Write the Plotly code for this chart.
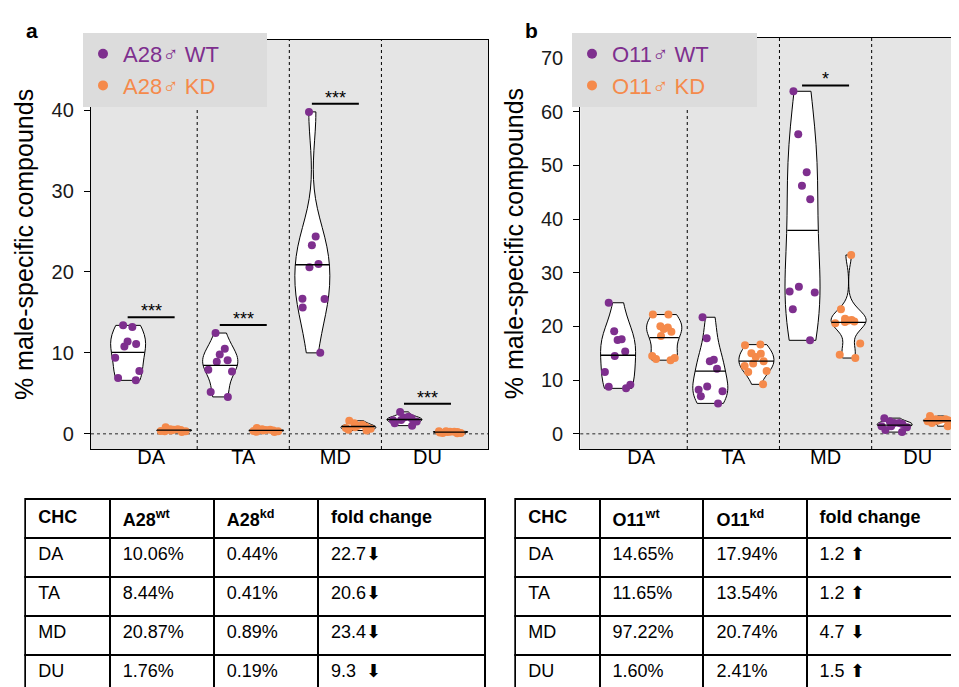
import math
import numpy as np
import plotly.graph_objects as go

# ---------------- data ----------------
categories = ["DA", "TA", "MD", "DU"]

# panel a (A28) – individual samples, % male-specific compounds
a_wt_vals = [
    [13.2, 13.4, 11.1, 10.8, 11.4, 9.4, 7.75, 6.9, 6.6],
    [12.45, 10.5, 9.8, 9.1, 8.9, 7.7, 7.9, 5.15, 4.55],
    [39.8, 24.4, 23.3, 20.6, 21.0, 16.7, 16.65, 15.6, 10.0],
    [2.7, 2.1, 2.0, 1.9, 1.7, 1.65, 1.5, 1.3, 1.0],
]
a_kd_vals = [
    [0.2, 0.3, 0.3, 0.35, 0.4, 0.45, 0.5, 0.55, 0.55, 0.8],
    [0.2, 0.25, 0.3, 0.35, 0.4, 0.4, 0.45, 0.5, 0.55, 0.7],
    [0.4, 0.5, 0.6, 0.7, 0.8, 0.9, 1.0, 1.1, 1.3, 1.6],
    [0.05, 0.1, 0.1, 0.15, 0.2, 0.2, 0.25, 0.25, 0.3, 0.3],
]
a_sig = ["***", "***", "***", "***"]

# panel b (O11)
b_wt_vals = [
    [24.4, 19.1, 17.6, 17.45, 15.3, 14.5, 11.5, 9.1, 8.45, 8.75],
    [21.7, 17.8, 13.8, 13.5, 12.1, 8.2, 8.8, 7.9, 7.0, 5.65],
    [63.8, 55.8, 48.7, 46.2, 43.7, 27.4, 26.5, 26.3, 23.2, 17.4],
    [2.9, 2.3, 2.0, 2.0, 1.8, 1.4, 1.2, 1.4, 0.7, 0.3],
]
b_kd_vals = [
    [22.2, 22.2, 19.5, 20.0, 19.8, 19.0, 18.2, 13.7, 13.9, 14.5, 14.1],
    [16.6, 16.5, 14.9, 15.0, 14.3, 13.5, 13.1, 12.6, 11.7, 11.5, 9.2],
    [33.3, 23.2, 21.4, 21.2, 20.9, 21.1, 20.6, 20.8, 16.8, 14.1, 14.7],
    [3.3, 2.7, 2.7, 2.6, 2.5, 2.4, 2.3, 2.2, 2.0, 1.4],
]
b_sig = ["", "", "*", ""]

a_names = ["A28♂ WT", "A28♂ KD"]
b_names = ["O11♂ WT", "O11♂ KD"]

a_yticks = [0, 10, 20, 30, 40]
b_yticks = [0, 10, 20, 30, 40, 50, 60, 70]

# tables
tbl_a_header = ["CHC", "A28<sup>wt</sup>", "A28<sup>kd</sup>", "fold change"]
tbl_a_wt = ["10.06%", "8.44%", "20.87%", "1.76%"]
tbl_a_kd = ["0.44%", "0.41%", "0.89%", "0.19%"]
tbl_a_fc = ["22.7⬇", "20.6⬇", "23.4⬇", "9.3\u00a0\u00a0⬇"]

tbl_b_header = ["CHC", "O11<sup>wt</sup>", "O11<sup>kd</sup>", "fold change"]
tbl_b_wt = ["14.65%", "11.65%", "97.22%", "1.60%"]
tbl_b_kd = ["17.94%", "13.54%", "20.74%", "2.41%"]
tbl_b_fc = ["1.2 ⬆", "1.2 ⬆", "4.7 ⬇", "1.5 ⬆"]

# ---------------- style ----------------
W, H = 959, 687
FONT = "Liberation Sans, Arial, Helvetica, sans-serif"
PURPLE = "#7E2F8E"
ORANGE = "#F58A4B"
PANEL_BG = "#E5E5E5"
LEGEND_BG = "#DCDCDC"
GROUPGAP = 0.24
HALF_W = 0.5 * (1 - GROUPGAP) / 2      # violin half width (category units)
OFFSETS = {"wt": -0.25, "kd": 0.25}    # group offsets for violinmode='group'


def px_x(p):
    return p / W


def px_y(p):
    return 1 - p / H


def mean_halfwidth(v):
    """Half-width of the violin at the mean level, mirroring plotly's KDE."""
    a = np.array(v, dtype=float)
    n = len(a)
    s = np.sort(a)

    def q(p):
        pos = min(max(n * p - 0.5, 0), n - 1)
        lo = int(math.floor(pos))
        hi = min(lo + 1, n - 1)
        return s[lo] + (s[hi] - s[lo]) * (pos - lo)

    sd = a.std()
    iqr = q(0.75) - q(0.25)
    base = min(sd, iqr / 1.349) if iqr > 0 else sd
    bw = 1.059 * base * n ** -0.2
    if bw <= 0:
        return HALF_W

    def kde(x):
        return np.exp(-0.5 * ((x - a) / bw) ** 2).sum()

    lo_, hi_ = a.min(), a.max()
    npts = max(int(math.ceil((hi_ - lo_) / (bw / 3))), 1)
    grid = np.linspace(lo_, hi_, npts + 1)
    mx = max(kde(g) for g in grid)
    return HALF_W * kde(a.mean()) / mx


fig = go.Figure()
shapes = []
annotations = []


def add_panel(wt, kd, names, xa, ya, leg):
    for vals, color, name, og in [(wt, PURPLE, names[0], "wt"),
                                  (kd, ORANGE, names[1], "kd")]:
        for i, (c, v) in enumerate(zip(categories, vals)):
            fig.add_trace(go.Violin(
                x=[c] * len(v), y=v, xaxis=xa, yaxis=ya,
                offsetgroup=og, alignmentgroup=xa,
                scalegroup=f"{xa}-{og}-{c}", name=f"{name} {c}",
                line=dict(color="black", width=1), fillcolor="white",
                points="all", pointpos=0, jitter=0.9,
                marker=dict(color=color, size=8, line=dict(width=0)),
                spanmode="hard", scalemode="width",
                meanline=dict(visible=False),
                box=dict(visible=False), showlegend=False, hoverinfo="y",
            ))
            m = float(np.mean(v))
            hw = mean_halfwidth(v)
            cx = i + OFFSETS[og]
            shapes.append(dict(type="line", xref=xa, yref=ya,
                               x0=cx - hw, x1=cx + hw, y0=m, y1=m,
                               layer="above",
                               line=dict(color="black", width=1.3)))
        fig.add_trace(go.Scatter(
            x=[None], y=[None], xaxis=xa, yaxis=ya, mode="markers",
            marker=dict(color=color, size=10),
            name=f"<span style='color:{color}'>{name}</span>" + "\u00a0" * 7,
            legend=leg, showlegend=True,
        ))


add_panel(a_wt_vals, a_kd_vals, a_names, "x", "y", "legend")
add_panel(b_wt_vals, b_kd_vals, b_names, "x2", "y2", "legend2")


def deco(wt, kd, sig, xa, ya, offset):
    for i in range(len(categories) - 1):
        shapes.append(dict(type="line", xref=xa, yref=f"{ya} domain",
                           x0=i + 0.5, x1=i + 0.5, y0=0, y1=1, layer="below",
                           line=dict(color="black", width=1, dash="dot")))
    shapes.append(dict(type="line", xref=f"{xa} domain", yref=ya,
                       x0=0, x1=1, y0=0, y1=0, layer="below",
                       line=dict(color="#666666", width=1.5, dash="3px,3px")))
    for i, s in enumerate(sig):
        if not s:
            continue
        top = max(max(wt[i]), max(kd[i])) + offset
        shapes.append(dict(type="line", xref=xa, yref=ya,
                           x0=i - 0.255, x1=i + 0.255, y0=top, y1=top,
                           line=dict(color="black", width=2)))
        annotations.append(dict(text=s, xref=xa, yref=ya, x=i, y=top,
                                yanchor="bottom", showarrow=False, yshift=-6,
                                font=dict(size=18, color="black", family=FONT)))


deco(a_wt_vals, a_kd_vals, a_sig, "x", "y", 1.0)
deco(b_wt_vals, b_kd_vals, b_sig, "x2", "y2", 1.1)

annotations.append(dict(text="<b>a</b>", xref="paper", yref="paper",
                        x=px_x(24), y=px_y(22), xanchor="center", yanchor="middle",
                        showarrow=False, font=dict(size=21, color="black", family=FONT)))
annotations.append(dict(text="<b>b</b>", xref="paper", yref="paper",
                        x=px_x(523), y=px_y(22), xanchor="center", yanchor="middle",
                        showarrow=False, font=dict(size=21, color="black", family=FONT)))


# tables
def add_table(header, c1, c2, c3, x0, x1, widths):
    pad = "\u00a0"
    fig.add_trace(go.Table(
        domain=dict(x=[x0, x1], y=[0, px_y(491)]),
        columnwidth=widths,
        header=dict(values=[pad + "<b>" + h + "</b>" for h in header],
                    height=39, align="left", fill_color="white",
                    line=dict(color="black", width=2),
                    font=dict(size=18, color="black", family=FONT)),
        cells=dict(values=[[pad + c for c in categories],
                           [pad + v for v in c1],
                           [pad + v for v in c2],
                           [pad + v for v in c3]],
                   height=39, align="left", fill_color="white",
                   line=dict(color="black", width=2),
                   font=dict(size=18, color="black", family=FONT)),
    ))


add_table(tbl_a_header, tbl_a_wt, tbl_a_kd, tbl_a_fc,
          px_x(17.3), px_x(477.3), [84.4, 104, 104.3, 167.3])
add_table(tbl_b_header, tbl_b_wt, tbl_b_kd, tbl_b_fc,
          px_x(507.3), 1.0, [84.4, 104, 103.3, 160])

axis_common_x = dict(type="category", categoryorder="array", categoryarray=categories,
                     showgrid=False, zeroline=False, ticks="", ticklen=0, showline=True,
                     linecolor="black", linewidth=1.3, mirror=True,
                     tickfont=dict(size=20, color="black", family=FONT),
                     ticklabelstandoff=-10)
axis_common_y = dict(showgrid=False, zeroline=False, ticks="outside", ticklen=6,
                     tickcolor="black", tickwidth=1, showline=True,
                     linecolor="black", linewidth=1.3, ticklabelstandoff=6,
                     tickfont=dict(size=20, color="#1a1a1a", family=FONT),
                     title=dict(text="% male-specific compounds", standoff=10,
                                font=dict(size=25, color="black", family=FONT)))

fig.update_layout(
    width=W, height=H, margin=dict(l=0, r=0, t=0, b=0),
    paper_bgcolor="white", plot_bgcolor=PANEL_BG,
    font=dict(family=FONT, color="black"),
    violinmode="group", violingap=0, violingroupgap=GROUPGAP,
    xaxis=dict(axis_common_x, domain=[px_x(83), px_x(480)], range=[-0.653, 3.657],
               anchor="y"),
    yaxis=dict(axis_common_y, domain=[px_y(441), px_y(32)], range=[-1.89, 48.69],
               tickvals=a_yticks, mirror=True, anchor="x"),
    xaxis2=dict(axis_common_x, domain=[px_x(572.3), 1.0], range=[-0.66, 3.534],
                anchor="y2"),
    yaxis2=dict(axis_common_y, domain=[px_y(441), px_y(30)], range=[-2.85, 73.73],
                tickvals=b_yticks, mirror=False, anchor="x2"),
    legend=dict(x=px_x(75), y=px_y(25), xanchor="left", yanchor="top",
                bgcolor=LEGEND_BG, itemwidth=30, borderwidth=0,
                font=dict(size=22, family=FONT)),
    legend2=dict(x=px_x(564), y=px_y(25), xanchor="left", yanchor="top",
                 bgcolor=LEGEND_BG, itemwidth=30, borderwidth=0,
                 font=dict(size=22, family=FONT)),
    shapes=shapes, annotations=annotations,
)

fig.write_html("out.html")
